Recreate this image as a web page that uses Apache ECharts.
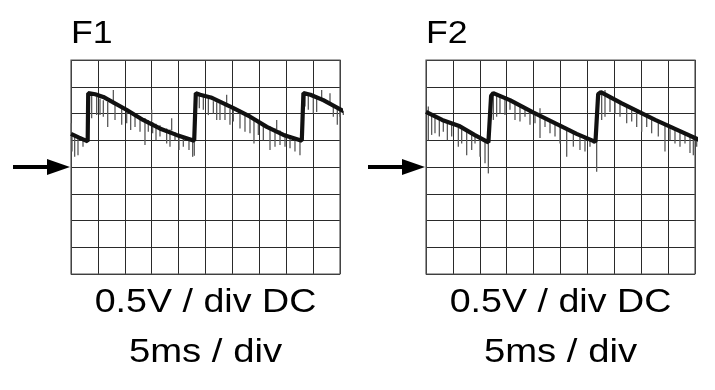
<!DOCTYPE html>
<html>
<head>
<meta charset="utf-8">
<script src="https://cdn.jsdelivr.net/npm/echarts@6/dist/echarts.min.js"></script>
<style>
html,body{margin:0;padding:0;background:#fff;}
#chart{width:715px;height:390px;}
</style>
</head>
<body>
<div id="chart"></div>
<script>
// Panel titles and scale captions
const panelTitles = ['F1', 'F2'];
const voltCaption = '0.5V / div DC';
const timeCaption = '5ms / div';

// Axis ranges: 10 time divisions of 5 ms, 8 voltage divisions of 0.5 V
const timeRange = [0, 50, 5];
const voltRange = [-2, 2, 0.5];

// F1 trace: [time ms, volts]
const f1Trace = [
  [0, 0.62], [1.5, 0.55], [3.1, 0.48], [3.2, 1.38], [4.5, 1.36], [6.0, 1.31],
  [10.3, 1.07], [13.4, 0.88], [16.5, 0.72], [19.6, 0.60], [22.9, 0.49],
  [23.2, 1.38], [24.0, 1.35], [26.0, 1.30], [30.2, 1.10], [33.3, 0.94],
  [36.4, 0.75], [39.5, 0.60], [42.9, 0.49], [43.2, 1.38], [44.5, 1.35],
  [46.9, 1.25], [50.9, 1.03]
];
// F1 noise spikes: [time ms, from V, to V]
const f1Spikes = [
  [0.06, 0.62, 0.82], [0.19, 0.61, 0.29], [0.68, 0.58, 0.19], [1.30, 0.56, 0.22], [2.23, 0.52, 0.38],
  [3.84, 1.35, 0.91], [4.77, 1.31, 0.97], [5.39, 1.28, 0.97], [6.01, 1.25, 0.94], [6.82, 1.22, 0.75],
  [7.87, 1.17, 1.44], [8.18, 1.16, 0.88], [9.42, 1.10, 0.79], [10.35, 1.06, 0.82], [11.09, 1.02, 0.69],
  [11.9, 0.99, 0.75], [12.83, 0.95, 0.66], [13.75, 0.91, 0.41], [14.37, 0.88, 0.66], [14.99, 0.85, 1.07],
  [15.18, 0.84, 0.63], [15.8, 0.81, 0.50], [16.54, 0.78, 0.57], [17.78, 0.72, 0.44], [18.4, 0.70, 0.38],
  [18.71, 0.68, 0.91], [19.33, 0.65, 0.50], [20.07, 0.62, 0.32], [20.88, 0.58, 0.38], [21.93, 0.54, 0.32],
  [22.61, 0.51, 0.19], [22.92, 0.49, 0.21],
  [23.85, 1.35, 1.10], [24.6, 1.32, 1.07], [25.53, 1.28, 0.97], [26.46, 1.23, 1.00], [27.08, 1.21, 0.88],
  [27.69, 1.18, 0.88], [28.62, 1.14, 0.88], [28.93, 1.12, 1.35], [29.55, 1.09, 0.79], [30.17, 1.07, 0.85],
  [31.41, 1.01, 0.72], [32.34, 0.97, 0.66], [33.27, 0.93, 0.63], [34.01, 0.89, 0.44], [34.82, 0.86, 0.60],
  [35.75, 0.82, 0.50], [36.99, 0.76, 0.32], [37.92, 0.72, 0.38], [38.23, 0.70, 0.88], [38.85, 0.68, 0.41],
  [39.78, 0.63, 0.38], [40.71, 0.59, 0.35], [41.63, 0.55, 0.29], [42.56, 0.51, 0.22],
  [43.49, 1.37, 1.13], [44.11, 1.34, 1.07], [45.04, 1.30, 1.00], [45.66, 1.27, 1.03], [46.59, 1.23, 1.44],
  [48.14, 1.16, 1.38], [48.76, 1.13, 0.94], [49.5, 1.10, 0.79], [50.0, 1.07, 0.94], [50.62, 1.05, 0.97]
];

// F2 trace: [time ms, volts]
const f2Trace = [
  [0, 1.03], [3.0, 0.88], [6.3, 0.76], [9.0, 0.60], [11.6, 0.46], [12.1, 1.33],
  [12.5, 1.38], [15.6, 1.25], [19.9, 1.02], [25.0, 0.77], [28.0, 0.62], [31.5, 0.47],
  [32.0, 1.36], [32.5, 1.40], [36.4, 1.19], [42.6, 0.88], [47.0, 0.68], [50.9, 0.50]
];
// F2 noise spikes: [time ms, from V, to V]
const f2Spikes = [
  [0.43, 1.01, 1.13], [0.43, 1.01, 0.50], [1.05, 0.98, 0.60], [1.67, 0.95, 0.63], [2.48, 0.91, 0.57],
  [3.22, 0.87, 0.66], [3.97, 0.84, 0.50], [4.77, 0.80, 0.57], [6.01, 0.74, 0.38], [6.63, 0.71, 0.44],
  [7.56, 0.66, 0.22], [8.49, 0.61, 0.32], [9.11, 0.58, 0.44], [10.04, 0.54, 0.19], [10.97, 0.49, 0.07],
  [11.59, 0.46, -0.12],
  [12.52, 1.37, 0.88], [13.13, 1.34, 0.94], [13.75, 1.32, 1.00], [14.68, 1.27, 0.97], [15.61, 1.23, 1.07],
  [16.54, 1.18, 0.88], [17.47, 1.14, 0.85], [18.4, 1.09, 0.94], [19.33, 1.05, 0.79], [20.26, 1.00, 0.82],
  [21.19, 0.96, 1.10], [21.19, 0.96, 0.54], [22.12, 0.91, 0.75], [23.05, 0.87, 0.63], [23.98, 0.82, 0.57],
  [24.91, 0.78, 0.44], [26.15, 0.72, 0.19], [27.39, 0.66, 0.38], [28.62, 0.60, 0.32], [29.55, 0.55, 0.29],
  [30.48, 0.51, 0.38], [31.1, 0.48, 0.44], [31.72, 0.47, -0.09],
  [32.65, 1.39, 0.88], [33.27, 1.36, 1.44], [33.27, 1.36, 0.94], [34.2, 1.31, 1.03], [35.13, 1.27, 1.00],
  [36.06, 1.22, 0.94], [37.3, 1.16, 0.82], [38.23, 1.11, 0.85], [39.16, 1.07, 0.75], [40.09, 1.02, 0.66],
  [41.02, 0.98, 0.75], [41.94, 0.93, 0.63], [43.18, 0.87, 0.57], [44.42, 0.81, 0.29], [45.35, 0.77, 0.50],
  [46.28, 0.72, 0.44], [47.21, 0.67, 0.38], [48.14, 0.63, 0.44], [49.07, 0.58, 0.26], [49.69, 0.55, 0.22],
  [50.31, 0.52, 0.38]
];

const chart = echarts.init(document.getElementById('chart'), null, {renderer: 'canvas'});

const gridLeft = [71, 426];
const gridTop = 60, gridW = 269, gridH = 214;
const lineCol = '#2a2a2a';

function xAxisFor(i) {
  return {
    type: 'value', gridIndex: i, min: timeRange[0], max: timeRange[1], interval: timeRange[2],
    axisLine: {show: false}, axisTick: {show: false}, axisLabel: {show: false},
    splitLine: {show: true, lineStyle: {color: lineCol, width: 1}}
  };
}
function yAxisFor(i) {
  return {
    type: 'value', gridIndex: i, min: voltRange[0], max: voltRange[1], interval: voltRange[2],
    axisLine: {show: false}, axisTick: {show: false}, axisLabel: {show: false},
    splitLine: {show: true, lineStyle: {color: lineCol, width: 1}}
  };
}
function spikeSeries(i, data) {
  return {
    type: 'custom', xAxisIndex: i, yAxisIndex: i, data: data, clip: false, z: 2,
    encode: {x: 0, y: [1, 2]},
    renderItem: function (params, api) {
      const a = api.coord([api.value(0), api.value(1)]);
      const b = api.coord([api.value(0), api.value(2)]);
      return {type: 'line', shape: {x1: a[0], y1: a[1], x2: b[0], y2: b[1]},
              style: {stroke: '#5a5a5a', lineWidth: 1.3}};
    }
  };
}
function traceSeries(i, data) {
  return {
    type: 'line', xAxisIndex: i, yAxisIndex: i, data: data, showSymbol: false, clip: false, z: 3,
    lineStyle: {color: '#111', width: 4.2}, silent: true
  };
}
function caption(text, cx, cy, size, sx) {
  return {type: 'text', x: cx, y: cy, scaleX: sx,
    style: {text: text, x: 0, y: 0, font: size + 'px "Liberation Sans", Arial, sans-serif',
            fill: '#000', align: 'center', verticalAlign: 'middle'}};
}
function arrow(x0, xb, xt, y) {
  return [
    {type: 'line', shape: {x1: x0, y1: y, x2: xb + 2, y2: y}, style: {stroke: '#000', lineWidth: 4}},
    {type: 'polygon', shape: {points: [[xb, y - 8], [xt, y], [xb, y + 8]]}, style: {fill: '#000'}}
  ];
}

const graphics = [];
[0, 1].forEach(function (i) {
  const cx = gridLeft[i] + gridW / 2;
  graphics.push({type: 'text', x: gridLeft[i], y: 34.3, scaleX: 1.15,
    style: {text: panelTitles[i], x: 0, y: 0, font: '31px "Liberation Sans", Arial, sans-serif',
            fill: '#000', align: 'left', verticalAlign: 'middle'}});
  graphics.push(caption(voltCaption, cx, 303.4, 33, 1.14));
  graphics.push(caption(timeCaption, cx, 353.4, 33, 1.16));
  const y0 = gridTop + gridH / 2;
  arrow(gridLeft[i] - 58, gridLeft[i] - 24, gridLeft[i] - 1, y0).forEach(function (g) { graphics.push(g); });
  graphics.push({type: 'rect', shape: {x: gridLeft[i], y: gridTop, width: gridW, height: gridH},
    style: {fill: 'none', stroke: '#555', lineWidth: 1.2}, z: 1});
});

chart.setOption({
  animation: false,
  backgroundColor: '#fff',
  grid: [
    {left: gridLeft[0], top: gridTop, width: gridW, height: gridH},
    {left: gridLeft[1], top: gridTop, width: gridW, height: gridH}
  ],
  xAxis: [xAxisFor(0), xAxisFor(1)],
  yAxis: [yAxisFor(0), yAxisFor(1)],
  series: [
    spikeSeries(0, f1Spikes), traceSeries(0, f1Trace),
    spikeSeries(1, f2Spikes), traceSeries(1, f2Trace)
  ],
  graphic: graphics
});
</script>
</body>
</html>
